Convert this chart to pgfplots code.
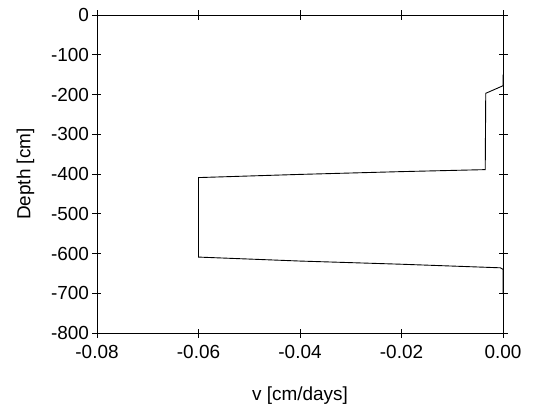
\documentclass[border=0pt]{standalone}
\usepackage{pgfplots}
\pgfplotsset{compat=1.18}
\usepackage{fontspec}
\setmainfont{Liberation Sans}
\begin{document}
\begin{tikzpicture}[x=1bp,y=1bp]
\begin{axis}[
  at={(0,0)}, anchor=south west,
  scale only axis, width=406bp, height=318bp,
  xmin=-0.08, xmax=0, ymin=-800, ymax=0,
  xtick={-0.08,-0.06,-0.04,-0.02,0},
  ytick={-800,-700,...,0},
  x tick label style={yshift=-4bp, /pgf/number format/.cd, fixed, fixed zerofill, precision=2},
  scaled x ticks=false,
  /pgf/number format/assume math mode=true,
  tick align=center, major tick length=9bp,
  tick style={black, line width=0.8pt},
  axis line style={line width=0.8pt},
  ticklabel style={font=\fontsize{19}{22}\selectfont},
  label style={font=\fontsize{19}{22}\selectfont},
  xlabel={v [cm/days]}, ylabel={Depth [cm]},
  xlabel style={yshift=-22bp},
  ylabel style={yshift=10bp},
]
\addplot[black, line width=0.9pt] coordinates {
 (0,-150) (0,-178) (-0.0034,-197) (-0.0035,-389) (-0.02,-394) (-0.04,-401) (-0.06,-409)
 (-0.06,-609) (-0.04,-619) (-0.02,-627) (-0.0005,-636) (0,-640) (0,-700)
};
\end{axis}
\path (-97bp,-78bp) rectangle (442bp,333bp);
\end{tikzpicture}
\end{document}
